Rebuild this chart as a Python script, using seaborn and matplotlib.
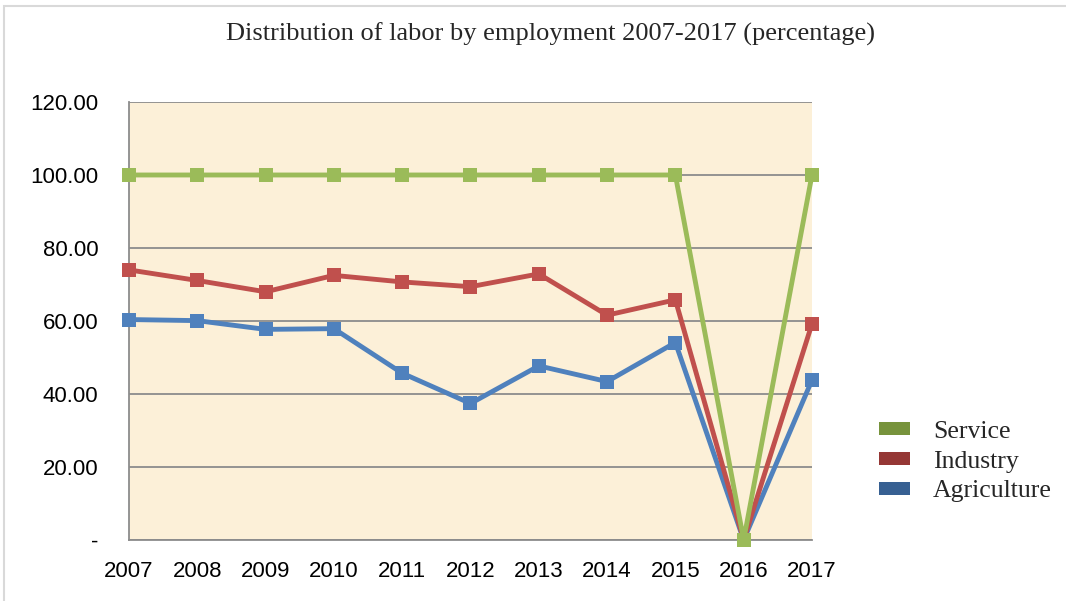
import pandas as pd
import matplotlib.pyplot as plt
import seaborn as sns
from matplotlib.patches import Patch, Rectangle

# Values
years = [2007, 2008, 2009, 2010, 2011, 2012, 2013, 2014, 2015, 2016, 2017]
service = [100, 100, 100, 100, 100, 100, 100, 100, 100, 0, 100]
industry = [74.0, 71.1, 68.0, 72.5, 70.7, 69.4, 72.9, 61.6, 65.8, 0, 59.2]
agriculture = [60.4, 60.1, 57.7, 57.9, 45.7, 37.4, 47.7, 43.4, 54.1, 0, 43.8]
series_names = ['Service', 'Industry', 'Agriculture']
line_colors = ['#9BBB59', '#C0504D', '#4F81BD']
legend_colors = ['#77933C', '#953735', '#376092']
y_ticks = [0, 20, 40, 60, 80, 100, 120]

df = pd.DataFrame({'year': years, 'Service': service,
                   'Industry': industry, 'Agriculture': agriculture})
long = df.melt(id_vars='year', var_name='sector', value_name='value')

sns.set_style('white')
fig = plt.figure(figsize=(10.66, 6.01), dpi=100)
ax = fig.add_axes([0.121, 0.1015, 0.6407, 0.7288])
ax.set_facecolor('#FCF0D8')

# draw Agriculture first so Service ends up on top, as in the original
sns.lineplot(data=long, x='year', y='value', hue='sector', hue_order=series_names[::-1],
             palette=line_colors[::-1], marker='s', markersize=10, markeredgewidth=0,
             linewidth=3.5, ax=ax, legend=False, zorder=3)
for ln in ax.lines:
    ln.set_clip_on(False)

ax.set_xlim(2007, 2017)
ax.set_ylim(0, 120)
ax.set_xticks(years)
ax.set_xticklabels([str(y) for y in years])
ax.set_yticks(y_ticks)
ax.set_yticklabels(['-' if v == 0 else f'{v:.2f}' for v in y_ticks])
ax.yaxis.grid(True, color='#8C8C8C', linewidth=1.3)
ax.set_axisbelow(True)
for s in ['top', 'right']:
    ax.spines[s].set_visible(False)
for s in ['left', 'bottom']:
    ax.spines[s].set_color('#8C8C8C')
    ax.spines[s].set_linewidth(1.3)
ax.tick_params(axis='both', direction='out', length=6, color='#8C8C8C', width=1.3,
               labelsize=16, labelcolor='black')
ax.tick_params(axis='y', pad=16)
ax.tick_params(axis='x', pad=9)
for lab in ax.get_xticklabels() + ax.get_yticklabels():
    lab.set_family('Liberation Sans')
ax.set_xlabel('')
ax.set_ylabel('')

fig.text(0.516, 0.943, 'Distribution of labor by employment 2007-2017 (percentage)',
         ha='center', va='center', fontsize=19, family='Liberation Serif')

handles = [Patch(facecolor=c, edgecolor='none') for c in legend_colors]
fig.legend(handles, series_names, loc='center left', bbox_to_anchor=(0.803, 0.232),
           frameon=False, prop={'family': 'Liberation Serif', 'size': 18.5},
           handlelength=1.2, handleheight=0.4, labelspacing=0.3, handletextpad=0.9)

fig.patches.append(Rectangle((0.004, -0.01), 1.0, 1.0, transform=fig.transFigure,
                             fill=False, edgecolor='#D9D9D9', linewidth=1.5))

fig.savefig('out.png', dpi=100)
